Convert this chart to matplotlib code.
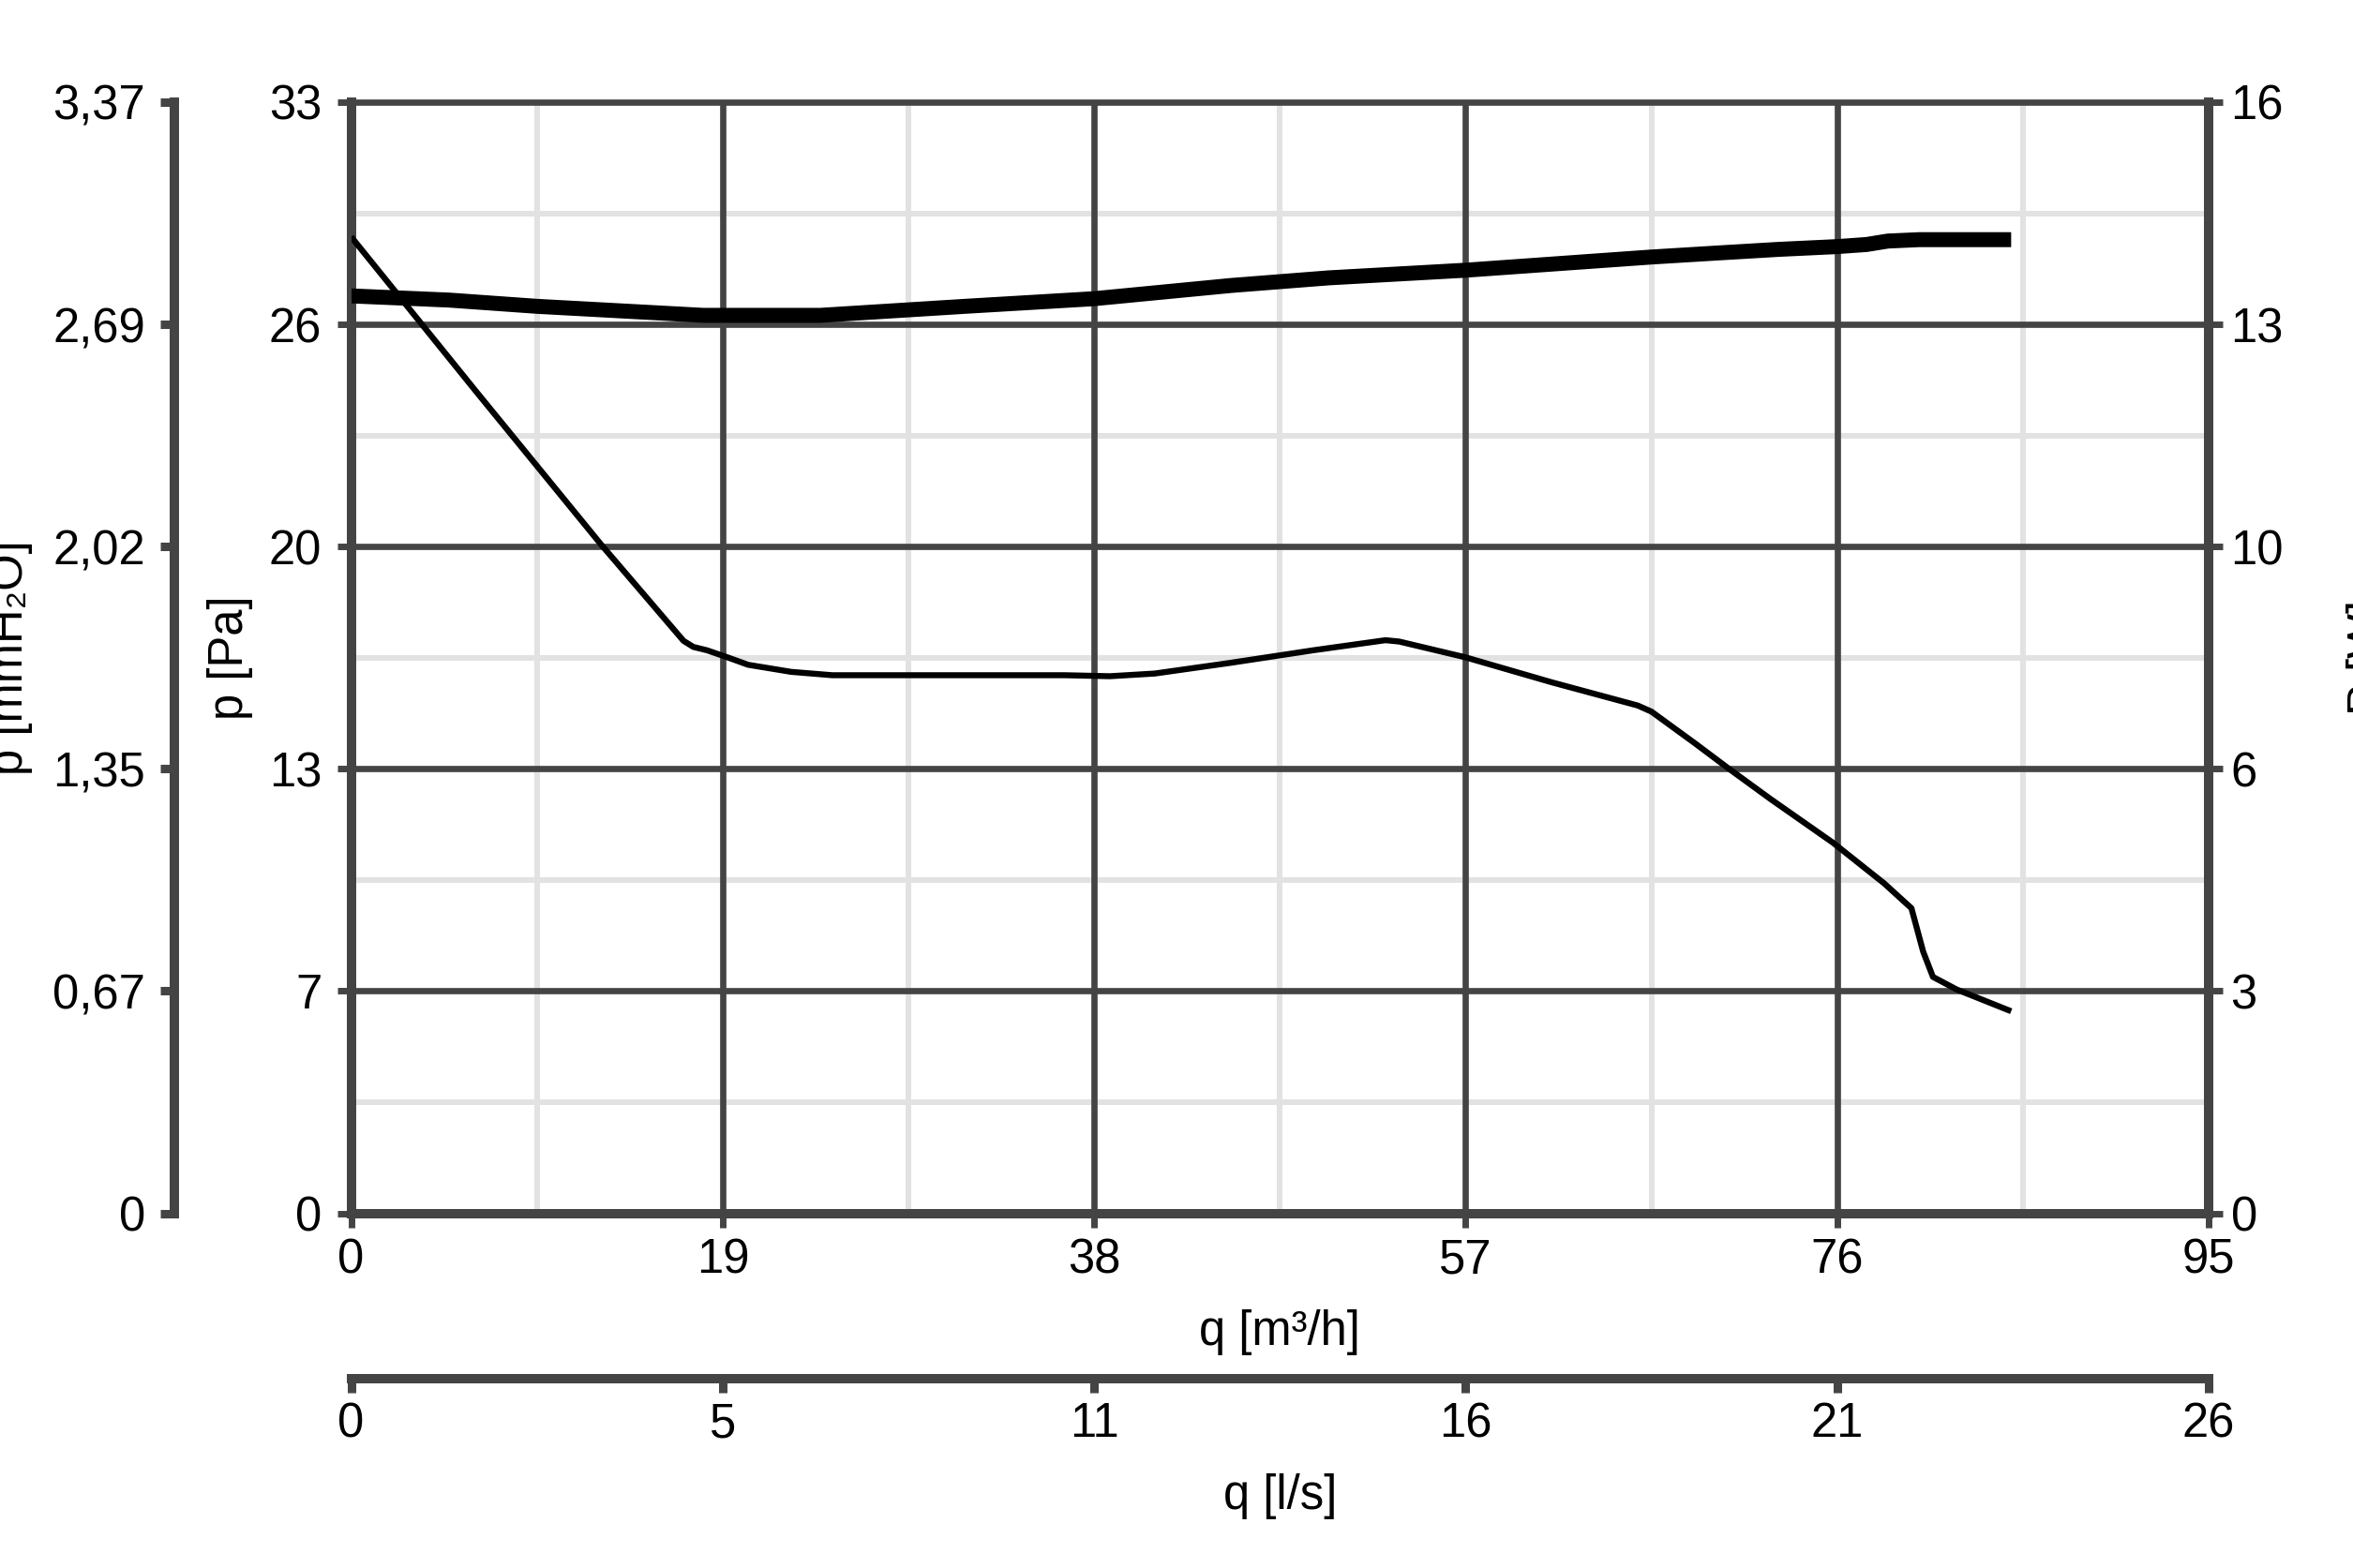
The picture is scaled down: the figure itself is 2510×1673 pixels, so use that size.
import matplotlib
matplotlib.use("Agg")
import matplotlib.pyplot as plt
import numpy as np

plt.rcParams['font.family'] = ['Liberation Sans', 'DejaVu Sans']

# ---------------- data ----------------
# pressure curve (Pa) vs flow (m3/h)
q_pa = [0, 6.4, 12.8, 17.0, 17.5, 18.2, 19.3, 20.3, 22.5, 24.6, 31.4, 36.5, 38.8,
        41.1, 45.0, 49.2, 52.9, 53.6, 57.0, 61.4, 65.8, 66.5, 68.7, 70.4, 72.6,
        75.8, 78.4, 79.8, 80.4, 80.9, 82.1, 84.9]
pa = [29.0, 24.4, 19.85, 17.0, 16.82, 16.72, 16.5, 16.29, 16.08, 15.98, 15.98, 15.98,
      15.95, 16.03, 16.35, 16.72, 17.02, 16.98, 16.51, 15.77, 15.08, 14.9, 13.97,
      13.23, 12.3, 11.0, 9.8, 9.06, 7.77, 7.02, 6.65, 6.0]

# power curve (W) vs flow (m3/h)
q_w = [0, 5, 9.5, 18, 24, 31.4, 38, 45, 50, 57, 62, 66.5, 70, 73, 76, 77.5,
       78.6, 80.2, 84.9]
w = [13.21, 13.15, 13.06, 12.93, 12.93, 13.06, 13.17, 13.36, 13.47, 13.58, 13.68,
     13.77, 13.83, 13.88, 13.92, 13.95, 14.0, 14.02, 14.02]

# axis ranges and tick labels
q_max = 95
ls_max = 26.39
pa_max = 33
w_max = 16
mm_max = 3.37

q_labels = ['0', '19', '38', '57', '76', '95']
ls_labels = ['0', '5', '11', '16', '21', '26']
pa_labels = ['0', '7', '13', '20', '26', '33']
w_labels = ['0', '3', '6', '10', '13', '16']
mm_labels = ['0', '0,67', '1,35', '2,02', '2,69', '3,37']

# ---------------- styling ----------------
DARK = '#444444'
LIGHT = '#e2e2e2'
FS = 36.5
SPINE_W = 7.2
GRID_W = 4.8
MINOR_W = 4.3
TICK_L = 11
TICK_W = 5

fig = plt.figure(figsize=(25.1, 16.73), dpi=100)
fig.patch.set_facecolor('white')

left = 374.6 / 2510
right = 2356.0 / 2510
bottom = 1 - 1294.5 / 1673
top = 1 - 109.0 / 1673
ax = fig.add_axes([left, bottom, right - left, top - bottom])

ax.set_xlim(0, q_max)
ax.set_ylim(0, pa_max)

x_major = np.linspace(0, q_max, 6)
y_major = np.linspace(0, pa_max, 6)
x_minor = (x_major[:-1] + x_major[1:]) / 2
y_minor = (y_major[:-1] + y_major[1:]) / 2

# grid lines (light under dark)
for v in x_minor:
    ax.axvline(v, color=LIGHT, lw=MINOR_W, zorder=1)
for v in y_minor:
    ax.axhline(v, color=LIGHT, lw=MINOR_W, zorder=1)
for v in x_major[1:-1]:
    ax.axvline(v, color=DARK, lw=GRID_W, zorder=1.5)
for v in y_major[1:-1]:
    ax.axhline(v, color=DARK, lw=GRID_W, zorder=1.5)

ax.set_xticks(x_major)
ax.set_xticklabels(q_labels)
ax.set_yticks(y_major)
ax.set_yticklabels(pa_labels)
ax.tick_params(axis='both', direction='out', length=TICK_L, width=TICK_W,
               color=DARK, labelsize=FS, labelcolor='black')
ax.tick_params(axis='x', pad=7.5)
ax.tick_params(axis='y', pad=11.5)

for s in ['left', 'bottom']:
    ax.spines[s].set_linewidth(SPINE_W)
    ax.spines[s].set_color(DARK)
ax.spines['top'].set_linewidth(GRID_W)
ax.spines['top'].set_color(DARK)
ax.spines['right'].set_visible(False)

# pressure curve
ax.plot(q_pa, pa, color='black', lw=4.6, zorder=3, solid_capstyle='butt',
        solid_joinstyle='round')

# right axis: power
axR = ax.twinx()
axR.set_ylim(0, w_max)
axR.set_yticks(np.linspace(0, w_max, 6))
axR.set_yticklabels(w_labels)
axR.tick_params(axis='y', direction='out', length=TICK_L, width=TICK_W,
                color=DARK, labelsize=FS, pad=6)
for s in ['left', 'top', 'bottom']:
    axR.spines[s].set_visible(False)
axR.spines['right'].set_linewidth(SPINE_W)
axR.spines['right'].set_color(DARK)
axR.plot(q_w, w, color='black', lw=11.5, zorder=3, solid_capstyle='butt',
         solid_joinstyle='round')

# far-left axis: mmH2O
axM = ax.twinx()
axM.set_ylim(0, mm_max)
axM.yaxis.set_ticks_position('left')
axM.set_yticks(np.linspace(0, mm_max, 6))
axM.set_yticklabels(mm_labels)
for s in ['right', 'top', 'bottom']:
    axM.spines[s].set_visible(False)
axM.spines['left'].set_position(('outward', 135.6))
axM.spines['left'].set_linewidth(SPINE_W)
axM.spines['left'].set_color(DARK)
axM.tick_params(axis='y', direction='out', length=TICK_L, width=6.5,
                color=DARK, labelsize=FS, pad=11.5)

# second bottom axis: l/s
axL = ax.twiny()
axL.set_xlim(0, ls_max)
axL.xaxis.set_ticks_position('bottom')
axL.set_xticks(np.linspace(0, ls_max, 6))
axL.set_xticklabels(ls_labels)
for s in ['right', 'top', 'left']:
    axL.spines[s].set_visible(False)
axL.spines['bottom'].set_position(('outward', 127.2))
axL.spines['bottom'].set_linewidth(SPINE_W)
axL.spines['bottom'].set_color(DARK)
axL.tick_params(axis='x', direction='out', length=TICK_L, width=6.5,
                color=DARK, labelsize=FS, pad=6.5)

# axis labels
ycen = (bottom + top) / 2
xcen = (left + right) / 2
fig.text(xcen, 1 - 1421 / 1673, 'q [m³/h]', fontsize=FS, ha='center', va='center')
fig.text(xcen, 1 - 1596.5 / 1673, 'q [l/s]', fontsize=FS, ha='center', va='center')
fig.text(246 / 2510, ycen, 'p [Pa]', fontsize=FS, rotation=90, ha='center', va='center')
fig.text(0.004, ycen, 'p [mmH₂O]', fontsize=FS, rotation=90, ha='center', va='center')
fig.text(1.007, ycen, 'P [W]', fontsize=FS, rotation=90, ha='center', va='center')

fig.savefig('out.png', dpi=100, facecolor='white')
